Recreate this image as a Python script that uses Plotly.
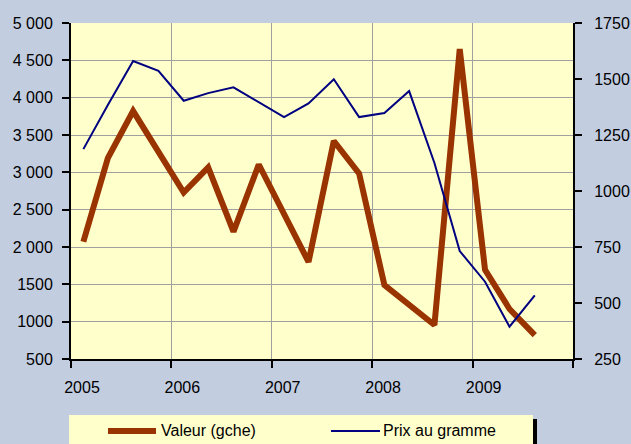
import plotly.graph_objects as go

# Données trimestrielles
dates = [
    "2005-02-15", "2005-05-15", "2005-08-15", "2005-11-15",
    "2006-02-15", "2006-05-15", "2006-08-15", "2006-11-15",
    "2007-02-15", "2007-05-15", "2007-08-15", "2007-11-15",
    "2008-02-15", "2008-05-15", "2008-08-15", "2008-11-15",
    "2009-02-15", "2009-05-15", "2009-08-15",
]
valeur = [2070, 3190, 3820, 3270, 2730, 3065, 2205, 3105, 2445, 1800,
          3420, 2985, 1490, 1220, 955, 4650, 1695, 1170, 820]
prix_gramme = [1187, 1384, 1580, 1536, 1403, 1437, 1463, 1397, 1330, 1391,
               1499, 1330, 1348, 1446, 1125, 732, 595, 394, 534]

left_ticks = [500, 1000, 1500, 2000, 2500, 3000, 3500, 4000, 4500, 5000]
left_labels = ["500", "1000", "1500", "2 000", "2 500", "3 000", "3 500",
               "4 000", "4 500", "5 000"]
right_ticks = [250, 500, 750, 1000, 1250, 1500, 1750]
year_ticks = ["2005-01-01", "2006-01-01", "2007-01-01", "2008-01-01",
              "2009-01-01", "2010-01-01"]
year_labels = ["2005", "2006", "2007", "2008", "2009", ""]

BROWN = "#993300"
BLUE = "#000080"
FONT = "Liberation Sans, Arial, sans-serif"

fig = go.Figure()
fig.add_trace(go.Scatter(x=dates, y=valeur, mode="lines", name="Valeur (gche)",
                         line=dict(color=BROWN, width=6)))
fig.add_trace(go.Scatter(x=dates, y=prix_gramme, mode="lines", name="Prix au gramme",
                         line=dict(color=BLUE, width=2), yaxis="y2"))

# légende dessinée à la main (coordonnées papier)
W, H = 502.0, 336.0
def px(x):
    return (x - 71) / W
def py(y):
    return (359 - y) / H

shapes = [
    dict(type="rect", xref="paper", yref="paper", x0=px(69), x1=px(533),
         y0=py(450), y1=py(415), fillcolor="#FFFFCC", line=dict(width=0), layer="below"),
    dict(type="rect", xref="paper", yref="paper", x0=px(533), x1=px(537),
         y0=py(450), y1=py(419), fillcolor="black", line=dict(width=0)),
    dict(type="line", xref="paper", yref="paper", x0=px(108), x1=px(156),
         y0=py(431), y1=py(431), line=dict(color=BROWN, width=6)),
    dict(type="line", xref="paper", yref="paper", x0=px(331), x1=px(380),
         y0=py(431), y1=py(431), line=dict(color=BLUE, width=2)),
]
annotations = [
    dict(text="Valeur (gche)", xref="paper", yref="paper", x=px(159), y=py(431),
         xanchor="left", yanchor="middle", showarrow=False,
         font=dict(family=FONT, size=16, color="black")),
    dict(text="Prix au gramme", xref="paper", yref="paper", x=px(381), y=py(431),
         xanchor="left", yanchor="middle", showarrow=False,
         font=dict(family=FONT, size=16, color="black")),
]

fig.update_layout(
    width=631, height=444, autosize=False,
    margin=dict(l=71, r=58, t=23, b=85),
    paper_bgcolor="#C2CDE0",
    plot_bgcolor="#FFFFCC",
    showlegend=False,
    font=dict(family=FONT, size=16, color="black"),
    shapes=shapes,
    annotations=annotations,
    xaxis=dict(
        type="date", range=["2005-01-01", "2010-01-01"],
        tickmode="array", tickvals=year_ticks, ticktext=year_labels,
        showgrid=True, gridcolor="#A0A0A0", gridwidth=1,
        showline=True, linecolor="black", linewidth=2,
        ticks="outside", ticklen=7, tickcolor="black", tickwidth=2,
        ticklabelshift=11, ticklabelstandoff=6,
        zeroline=False, automargin=False,
    ),
    yaxis=dict(
        range=[500, 5000], tickmode="array", tickvals=left_ticks, ticktext=left_labels,
        showgrid=True, gridcolor="#A0A0A0", gridwidth=1,
        showline=True, linecolor="black", linewidth=2,
        ticks="outside", ticklen=7, tickcolor="black", tickwidth=2,
        ticklabelstandoff=6,
        zeroline=False, automargin=False,
    ),
    yaxis2=dict(
        range=[250, 1750], tickmode="array", tickvals=right_ticks,
        overlaying="y", side="right", showgrid=False,
        showline=True, linecolor="black", linewidth=2,
        ticks="outside", ticklen=7, tickcolor="black", tickwidth=2,
        ticklabelstandoff=9,
        zeroline=False, automargin=False,
    ),
)

fig.write_html(
    "out.html",
    config={"displayModeBar": False, "responsive": False},
    post_script="document.body.style.margin='0';document.body.style.overflow='hidden';",
)
